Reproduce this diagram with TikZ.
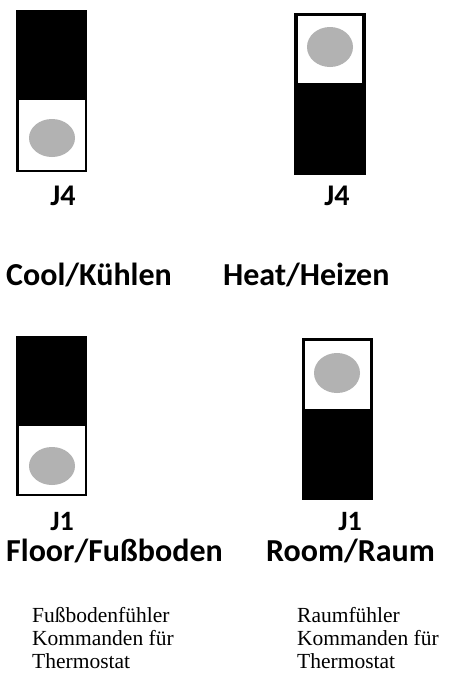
\documentclass[tikz,border=0pt]{standalone}
\usepackage{fontspec}
\setmainfont{Liberation Serif}
\newfontfamily\labfont{Carlito}
\definecolor{dotgray}{RGB}{178,178,178}
\begin{document}
\begin{tikzpicture}[x=1pt,y=-1pt,
  bigl/.style={inner sep=0pt,anchor=base west,text height=22pt,font=\labfont\bfseries\fontsize{32}{36}\selectfont},
  jl/.style={inner sep=0pt,anchor=base,text depth=0pt,font=\labfont\bfseries\fontsize{30}{34}\selectfont},
  jlb/.style={jl,font=\labfont\bfseries\fontsize{28}{30}\selectfont},
  small/.style={inner sep=0pt,anchor=base west,font=\fontsize{21.5}{24}\selectfont,align=left},
  dot/.style={fill=dotgray}]
\useasboundingbox[fill=white] (0,0) rectangle (449,673);
% top-left jumper
\fill[black] (16,10) rectangle (87,172);
\fill[white] (19,100) rectangle (85,170);
\fill[dot] (52,138) ellipse [x radius=23, y radius=19];
% top-right jumper
\fill[black] (294,13) rectangle (366,175);
\fill[white] (298,16) rectangle (362,83);
\fill[dot] (330,47) ellipse [x radius=23, y radius=20];
% bottom-left jumper
\fill[black] (16,336) rectangle (87,496);
\fill[white] (19,426) rectangle (85,494);
\fill[dot] (52,466) ellipse [x radius=23, y radius=19];
% bottom-right jumper
\fill[black] (302,338) rectangle (373,500);
\fill[white] (305,341) rectangle (370,409);
\fill[dot] (337,373) ellipse [x radius=23, y radius=20];
% labels
\node[jl] (j4a) at (63,205) {J4};
\node[jl] (j4b) at (337,205) {J4};
\node[bigl] (cool) at (6,285) {Cool/Kühlen};
\node[bigl] (heat) at (223,285) {Heat/Heizen};
\node[jlb] (j1a) at (62,530) {J1};
\node[jlb] (j1b) at (350,530) {J1};
\node[bigl] (floor) at (6,561) {Floor/Fußboden};
\node[bigl] (room) at (266,561) {Room/Raum};
\node[small] (ta1) at (32,622) {Fußbodenfühler};
\node[small] (ta2) at (32,645) {Kommanden für};
\node[small] (ta3) at (32,668) {Thermostat};
\node[small] (tb1) at (297,622) {Raumfühler};
\node[small] (tb2) at (297,645) {Kommanden für};
\node[small] (tb3) at (297,668) {Thermostat};
\end{tikzpicture}
\end{document}
